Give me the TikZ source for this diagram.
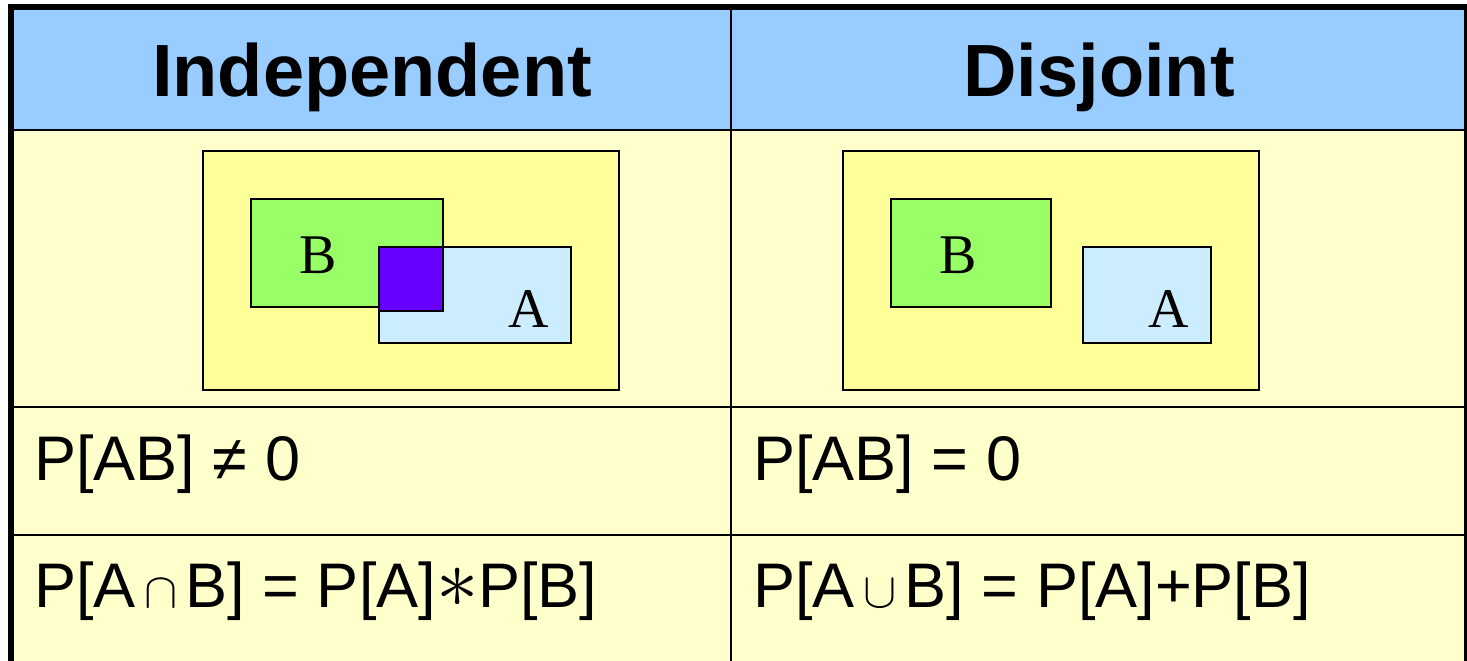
\documentclass[tikz,border=0pt]{standalone}
\usepackage{fontspec}
\setmainfont{Liberation Sans}
\newfontfamily\serifset{Liberation Serif}
\usepackage{tikz}
\usetikzlibrary{positioning}
\definecolor{headblue}{HTML}{99CCFF}
\definecolor{cellyellow}{HTML}{FFFFCC}
\definecolor{spaceyellow}{HTML}{FFFF99}
\definecolor{setgreen}{HTML}{99FF66}
\definecolor{setblue}{HTML}{CCECFF}
\definecolor{setpurple}{HTML}{6600FF}
\newcommand{\bigast}{\scalebox{1.7}{$\ast$}}
\tikzset{
  myhead/.style = {font=\fontsize{37}{44}\selectfont\bfseries, anchor=base, inner sep=0pt},
  myformula/.style = {font=\fontsize{31.5}{38}\selectfont, anchor=base west, inner sep=0pt},
  mylabel/.style = {font=\serifset\fontsize{28}{34}\selectfont, anchor=base, inner sep=0pt},
  myset/.style = {draw=black, line width=1.35pt},
  mygrid/.style = {line width=1.25pt},
  myframe/.style = {line width=3pt},
}
\begin{document}
\begin{tikzpicture}[x=0.5pt, y=-0.5pt]
\useasboundingbox (0,0) rectangle (1467,660);
% cells
\fill[headblue] (11,7) rectangle (1467,130);
\fill[cellyellow] (11,130) rectangle (1467,670);
\draw[mygrid] (11,130) -- (1467,130);
\draw[mygrid] (11,407) -- (1467,407);
\draw[mygrid] (11,535) -- (1467,535);
\draw[mygrid] (731,7) -- (731,670);
\draw[myframe] (11,680) -- (11,7) -- (1467,7) -- (1467,680);
% headings
\node[myhead] (indep) at (372,96) {Independent};
\node[myhead] (disj) at (1099,96) {Disjoint};
% overlapping sets
\draw[myset, fill=spaceyellow] (203,151) rectangle (619,390);
\draw[myset, fill=setgreen] (251,199) rectangle (443,307);
\draw[myset, fill=setblue] (379,247) rectangle (571,343);
\draw[myset, fill=setpurple] (379,247) rectangle (443,311);
\node[mylabel] (lb) at (318,273) {B};
\node[mylabel] (la) at (529,327) {A};
% separate sets
\draw[myset, fill=spaceyellow] (843,151) rectangle (1259,390);
\draw[myset, fill=setgreen] (891,199) rectangle (1051,307);
\draw[myset, fill=setblue] (1083,247) rectangle (1211,343);
\node[mylabel] (rb) at (958,273) {B};
\node[mylabel] (ra) at (1169,327) {A};
% formulas
\node[myformula] (neq) at (34,480) {P[AB] ≠ 0};
\node[myformula] (eq) at (753,480) {P[AB] = 0};
\node[myformula] (inter) at (34,607) {P[A$\,\cap\,$B] = P[A]\bigast P[B]};
\node[myformula] (union) at (753,607) {P[A$\,\cup\,$B] = P[A]+P[B]};
\end{tikzpicture}
\end{document}
